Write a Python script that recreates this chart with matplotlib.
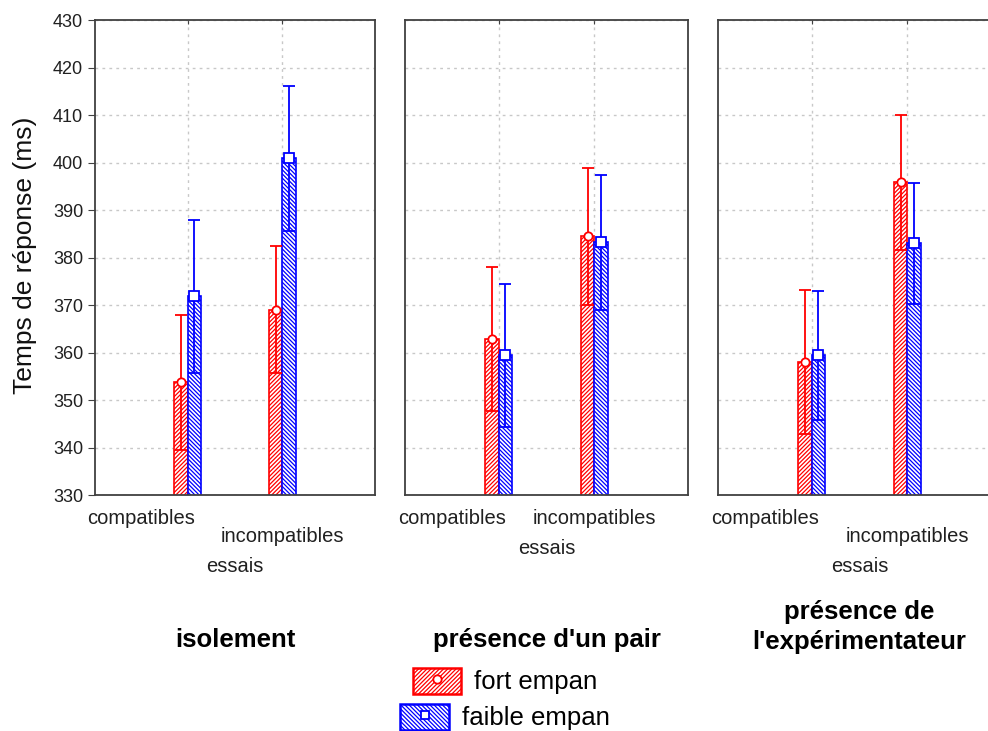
import numpy as np
import matplotlib
matplotlib.use('Agg')
import matplotlib.pyplot as plt
import matplotlib.transforms as mtransforms
from matplotlib.patches import Patch
from matplotlib.lines import Line2D

# moyennes et intervalles (ms) par condition
conditions = ['isolement', "présence d'un pair", "présence de\nl'expérimentateur"]
essais = ['compatibles', 'incompatibles']
fort_moy = [[353.7, 369.0], [362.9, 384.5], [358.0, 395.8]]
fort_err = [[14.2, 13.4], [15.2, 14.4], [15.1, 14.2]]
faible_moy = [[371.8, 400.9], [359.4, 383.2], [359.4, 383.0]]
faible_err = [[16.2, 15.3], [15.1, 14.2], [13.6, 12.7]]
yticks = list(range(330, 431, 10))

ROUGE = '#ff0000'
BLEU = '#0000ff'
HACH_R = '/' * 8
HACH_B = '\\' * 8

plt.rcParams['font.family'] = ['Liberation Sans', 'DejaVu Sans']
plt.rcParams['hatch.linewidth'] = 0.9

W, H = 988, 731
fig = plt.figure(figsize=(W / 100, H / 100), dpi=100)

lefts = [95, 405, 718]
largs = [280, 283, 283]
# position des libellés sous l'axe (en pixels depuis le haut)
y_incompat = [537, 518, 537]
y_essais = [567, 548, 567]
y_titre = [640, 640, 627]

x = np.array([1, 2])
dx = 0.07
bw = 0.14

for i, cond in enumerate(conditions):
    ax = fig.add_axes([lefts[i] / W, 1 - 495 / H, largs[i] / W, 475 / H])
    ax.bar(x - dx, fort_moy[i], width=bw, color='white', edgecolor=ROUGE,
           hatch=HACH_R, linewidth=1.2, zorder=2)
    ax.bar(x + dx, faible_moy[i], width=bw, color='white', edgecolor=BLEU,
           hatch=HACH_B, linewidth=1.2, zorder=2)
    ax.errorbar(x - dx, fort_moy[i], yerr=fort_err[i], fmt='o', color=ROUGE,
                mfc='white', mec=ROUGE, ms=6, mew=1.3, capsize=4,
                elinewidth=1.3, capthick=1.3, zorder=3)
    ax.errorbar(x + dx, faible_moy[i], yerr=faible_err[i], fmt='s', color=BLEU,
                mfc='white', mec=BLEU, ms=6.5, mew=1.3, capsize=4,
                elinewidth=1.3, capthick=1.3, zorder=3)

    ax.set_xlim(0.02, 2.98)
    ax.set_ylim(330, 430)
    ax.set_xticks(x)
    ax.set_yticks(yticks)
    ax.grid(True, color='#c8c8c8', linestyle=(0, (2, 3)), linewidth=1)
    ax.set_axisbelow(True)
    for s in ax.spines.values():
        s.set_color('#404040')
        s.set_linewidth(1.3)
    ax.tick_params(axis='x', labelbottom=False, bottom=False, top=True,
                   direction='in', length=3, color='#404040')
    if i == 0:
        ax.tick_params(axis='y', labelsize=13, length=5, color='#404040',
                       labelcolor='#202020')
    else:
        ax.tick_params(axis='y', left=False, labelleft=False)

    trans = mtransforms.blended_transform_factory(ax.transData, fig.transFigure)
    ax.text(1 - 0.49, 1 - 518 / H, essais[0], transform=trans,
            ha='center', va='center', fontsize=14.5, color='#202020')
    ax.text(2, 1 - y_incompat[i] / H, essais[1], transform=trans,
            ha='center', va='center', fontsize=14.5, color='#202020')
    ax.text(1.5, 1 - y_essais[i] / H, 'essais', transform=trans,
            ha='center', va='center', fontsize=14.5, color='#202020')
    ax.text(1.5, 1 - y_titre[i] / H, cond, transform=trans, ha='center',
            va='center', fontsize=18.5, fontweight='bold', linespacing=1.3)

fig.text(25 / W, 1 - 255 / H, 'Temps de réponse (ms)', rotation=90,
         ha='center', va='center', fontsize=19, color='#101010')

# légende : deux entrées centrées l'une sous l'autre
entrees = [
    ('fort empan', ROUGE, HACH_R, 'o', 681),
    ('faible empan', BLEU, HACH_B, 's', 717),
]
for lab, col, hat, mk, yc in entrees:
    h = (Patch(facecolor='white', edgecolor=col, hatch=hat, linewidth=1.8),
         Line2D([], [], marker=mk, ls='none', mfc='white', mec=col, ms=6, mew=1.3))
    fig.legend(handles=[h], labels=[lab], loc='center',
               bbox_to_anchor=(505 / W, 1 - yc / H), frameon=False,
               fontsize=18.5, handlelength=1.9, handleheight=1.2,
               handletextpad=0.5, borderpad=0, borderaxespad=0)

fig.savefig('out.png', dpi=100)
